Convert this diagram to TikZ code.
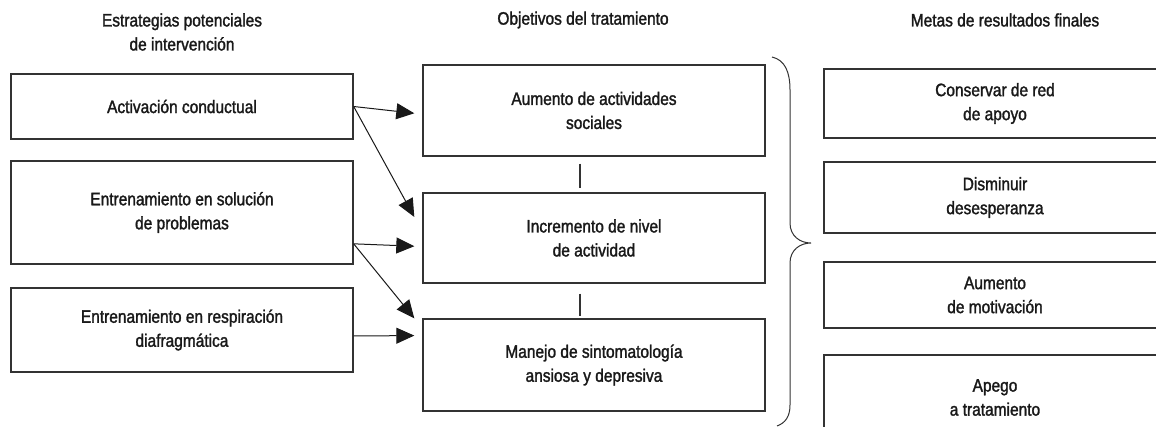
\documentclass[tikz,border=0pt]{standalone}
\usepackage{fontspec}
\setmainfont{Liberation Sans}[FakeStretch=0.86,FakeBold=1.6]
\usetikzlibrary{arrows.meta,calc}

\begin{document}
\begin{tikzpicture}[x=1pt,y=-1pt,
  caja/.style={draw=black!80,line width=1.4pt,minimum width=342pt,inner sep=0pt,
    align=center,text=black!90,font=\fontsize{18}{24}\selectfont},
  titulo/.style={align=center,text=black!90,font=\fontsize{18}{24}\selectfont},
  flecha/.style={-{Triangle[length=18pt,width=16pt]},line width=1pt,black!90},
  enlace/.style={line width=1.2pt,black!80}]
\useasboundingbox (0,0) rectangle (1156,426);

% titulos de columnas
\node[titulo] (tEstrategias) at (182,32) {Estrategias potenciales\\de intervención};
\node[titulo] (tObjetivos) at (583,20) {Objetivos del tratamiento};
\node[titulo] (tMetas) at (1005,20) {Metas de resultados finales};

% estrategias
\node[caja,minimum height=65pt] (act) at (182,106.5) {Activación conductual};
\node[caja,minimum height=103pt] (sol) at (182,212.5) {Entrenamiento en solución\\de problemas};
\node[caja,minimum height=84pt] (resp) at (182,330) {Entrenamiento en respiración\\diafragmática};

% objetivos
\node[caja,minimum height=91pt] (soc) at (594,110.5) {Aumento de actividades\\sociales};
\node[caja,minimum height=90pt] (niv) at (594,238) {Incremento de nivel\\de actividad};
\node[caja,minimum height=92pt] (sint) at (594,365) {Manejo de sintomatología\\ansiosa y depresiva};

% metas
\node[caja,minimum height=69pt] (red) at (995,103.5) {Conservar de red\\de apoyo};
\node[caja,minimum height=71pt] (desesp) at (995,197.5) {Disminuir\\desesperanza};
\node[caja,minimum height=66pt] (motiv) at (995,295) {Aumento\\de motivación};
\node[caja,minimum height=85pt] (apego) at (995,397.5) {Apego\\a tratamiento};

% flechas
\draw[flecha] (act.east) -- ($(soc.north west)!0.53!(soc.south west)+(-8,0)$);
\draw[flecha] (act.east) -- ($(niv.north west)!0.27!(niv.south west)+(-8,0)$);
\draw[flecha] ($(sol.north east)!0.8!(sol.south east)$) -- ($(niv.north west)!0.59!(niv.south west)+(-8,0)$);
\draw[flecha] ($(sol.north east)!0.8!(sol.south east)$) -- ($(sint.north west)+(-8,0)$);
\draw[flecha] ($(resp.north east)!0.57!(resp.south east)$) -- ($(sint.north west)!0.185!(sint.south west)+(-8,0)$);

% enlaces entre objetivos
\draw[enlace] ($(soc.south)+(-14,7)$) -- ($(niv.north)+(-14,-4)$);
\draw[enlace] ($(niv.south)+(-14,10)$) -- ($(sint.north)+(-14,-2)$);

% llave
\draw[line width=1pt,black!80] (772,57) .. controls (785,60) and (790,72) .. (790,90)
  -- (790,223) .. controls (790,236) and (800,243) .. (811,243)
  .. controls (800,243) and (790,250) .. (790,263)
  -- (790,405) .. controls (790,417) and (785,423) .. (777,426);
\end{tikzpicture}
\end{document}
